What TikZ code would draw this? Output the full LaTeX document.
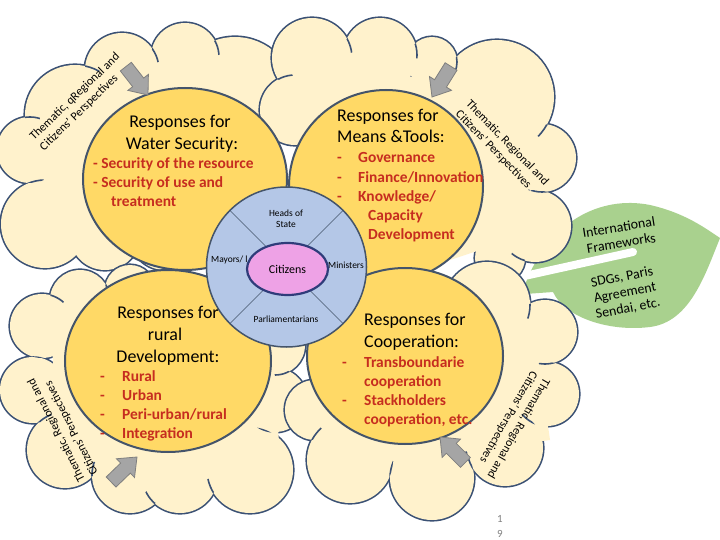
\documentclass[tikz,border=0pt]{standalone}
\usepackage{fontspec}
\setmainfont{Carlito}
\usetikzlibrary{shapes.geometric}
\definecolor{cloudfill}{HTML}{FFF2CC}
\definecolor{cloudline}{HTML}{3B5174}
\definecolor{gold}{HTML}{FFD966}
\definecolor{ringblue}{HTML}{B4C7E7}
\definecolor{pinkc}{HTML}{EEA2E6}
\definecolor{navy}{HTML}{2F3C7A}
\definecolor{redtxt}{HTML}{C62D1F}
\definecolor{leafgreen}{HTML}{A9D18E}
\definecolor{arrowfill}{HTML}{A5A5A5}
\definecolor{arrowline}{HTML}{7F7F7F}
\definecolor{slate}{HTML}{44546A}
% cloud = union of puffs; #1 puffs x/y/r, #2 filled core polygon
\newcommand\cloudpuffs[2]{%
  \foreach \pcx/\pcy/\pcr in {#1} {\draw[cloudline, line width=3.2bp] (\pcx,\pcy) circle[radius=\pcr];}
  \fill[cloudfill] #2;
  \foreach \pcx/\pcy/\pcr in {#1} {\fill[cloudfill] (\pcx,\pcy) circle[radius=\pcr];}
}
% short inner arcs where puff b runs into puff a; #2,#3 = cloud centre
\newcommand\cloudhooks[3]{%
  \foreach \pxa/\pya/\pra/\pxb/\pyb/\prb in {#1} {%
    \pgfmathsetmacro\cdd{veclen((\pxb-\pxa)/10,(\pyb-\pya)/10)}%
    \pgfmathsetmacro\caa{((\pra/10)^2-(\prb/10)^2+\cdd^2)/(2*\cdd)}%
    \pgfmathsetmacro\chh{sqrt(max((\pra/10)^2-\caa^2,0))}%
    \pgfmathsetmacro\cpx{\pxa+\caa*(\pxb-\pxa)/\cdd}%
    \pgfmathsetmacro\cpy{\pya+\caa*(\pyb-\pya)/\cdd}%
    \pgfmathsetmacro\cjxa{\cpx-\chh*(\pyb-\pya)/\cdd}%
    \pgfmathsetmacro\cjya{\cpy+\chh*(\pxb-\pxa)/\cdd}%
    \pgfmathsetmacro\cjxb{\cpx+\chh*(\pyb-\pya)/\cdd}%
    \pgfmathsetmacro\cjyb{\cpy-\chh*(\pxb-\pxa)/\cdd}%
    \pgfmathsetmacro\cda{veclen((\cjxa-#2)/10,(\cjya-#3)/10)}%
    \pgfmathsetmacro\cdb{veclen((\cjxb-#2)/10,(\cjyb-#3)/10)}%
    \pgfmathsetmacro\cjx{\cda>\cdb ? \cjxa : \cjxb}%
    \pgfmathsetmacro\cjy{\cda>\cdb ? \cjya : \cjyb}%
    \begin{scope}
      \clip (\pxa,\pya) circle[radius=\pra];
      \clip (\cjx,\cjy) circle[radius=15];
      \draw[cloudline, line width=1.6bp] (\pxb,\pyb) circle[radius=\prb];
    \end{scope}
  }%
}
\begin{document}
\begin{tikzpicture}[x=1bp,y=-1bp,
  resp/.style={ellipse, draw=slate, fill=gold, line width=2bp, inner sep=0pt},
  title/.style={font=\fontsize{18}{22}\selectfont, inner sep=0pt},
  items/.style={font=\fontsize{15.5}{19.5}\selectfont\bfseries, text=redtxt, inner sep=0pt},
  ringlabel/.style={font=\fontsize{9.5}{11}\selectfont, inner sep=0pt},
  cloudlabel/.style={font=\fontsize{12}{14.5}\selectfont, align=left, inner sep=0pt},
  leaflabel/.style={font=\fontsize{14}{16}\selectfont, align=center, inner sep=0pt},
  blockarrow/.pic={\filldraw[fill=arrowfill, draw=arrowline, line width=0.8bp]
     (-36,-7) -- (-16,-7) -- (-16,-13) -- (0,0) -- (-16,13) -- (-16,7) -- (-36,7) -- cycle;}
]
\useasboundingbox[fill=white] (0,0) rectangle (720,540);

% leaf
\fill[leafgreen] (525,285) .. controls (548,222) and (600,195) .. (650,205)
   .. controls (685,213) and (705,228) .. (720,238)
   .. controls (705,275) and (690,322) .. (650,327)
   .. controls (610,332) and (565,318) .. (553,292) -- (525,294) -- cycle;
\draw[white, line width=8bp, line cap=round] (520,277) -- (633,252);

% clouds
\cloudpuffs{30/150/33, 75/115/50, 122/70/37, 185/57/34, 235/97/60, 45/224/44, 105/235/35, 165/235/35}
  {(40,120) -- (120,60) -- (250,80) -- (260,200) -- (100,255) -- (30,220) -- cycle}
\cloudhooks{30/150/33/45/224/44, 75/115/50/30/150/33, 122/70/37/75/115/50, 185/57/34/122/70/37, 235/97/60/185/57/34}{150}{150}
\cloudpuffs{312/58/40, 380/55/37, 432/62/25, 497/97/57, 542/158/34, 535/226/36, 500/258/25, 295/110/35}
  {(300,60) -- (500,90) -- (540,230) -- (450,260) -- (300,200) -- cycle}
\cloudhooks{312/58/40/295/110/35, 380/55/37/312/58/40, 432/62/25/380/55/37, 497/97/57/432/62/25, 542/158/34/497/97/57, 535/226/36/542/158/34, 500/258/25/535/226/36}{420}{150}
\cloudpuffs{42/326/32, 33/390/33, 65/450/38, 130/475/38, 180/475/38, 250/470/43, 275/400/32, 275/345/30, 80/300/30, 130/290/25}
  {(50,320) -- (270,300) -- (280,460) -- (60,460) -- cycle}
\cloudhooks{275/400/32/275/345/30, 250/470/43/275/400/32, 180/475/38/250/470/43, 130/475/38/180/475/38, 65/450/38/130/475/38, 33/390/33/65/450/38, 42/326/32/33/390/33, 80/300/30/42/326/32, 130/290/25/80/300/30}{160}{400}
\cloudpuffs{487/305/43, 545/332/32, 547/394/32, 505/448/38, 432/478/42, 350/460/43, 315/410/30}
  {(320,300) -- (530,300) -- (550,440) -- (330,470) -- cycle}
\cloudhooks{545/332/32/487/305/43, 547/394/32/545/332/32, 505/448/38/547/394/32, 432/478/42/505/448/38, 350/460/43/432/478/42, 315/410/30/350/460/43}{440}{390}

% response circles
\node[resp, minimum width=204bp, minimum height=182bp] (water) at (185,179) {};
\node[resp, minimum width=194bp, minimum height=192bp] (means) at (386,186) {};
\node[resp, minimum width=206bp, minimum height=182bp] (rural) at (168,361) {};
\node[resp, minimum width=196bp, minimum height=176bp] (coop) at (405,356) {};

% central ring
\node[circle, draw=slate, fill=ringblue, line width=1.5bp, minimum size=160bp, inner sep=0pt] (ring) at (286.5,267) {};
\draw[slate, line width=0.6bp] (ring.center) -- (ring.45);
\draw[slate, line width=0.6bp] (ring.center) -- (ring.135);
\draw[slate, line width=0.6bp] (ring.center) -- (ring.225);
\draw[slate, line width=0.6bp] (ring.center) -- (ring.315);
\node[ringlabel, anchor=base] (heads1) at (286,217) {Heads of};
\node[ringlabel, anchor=base] (heads2) at (286,228) {State};
\node[ringlabel, anchor=base west] (mayors) at (211,263) {Mayors/ l};
\node[ringlabel, anchor=base west] (ministers) at (328,269) {Ministers};
\node[ringlabel, anchor=base] (parl) at (286,322) {Parliamentarians};
\node[ellipse, draw=navy, fill=pinkc, line width=2.2bp, minimum width=81bp, minimum height=52bp, inner sep=0pt] (cit) at (287.5,269) {};
\node[font=\fontsize{12}{14}\selectfont, anchor=base, inner sep=0pt] (citt) at (287.5,274) {Citizens};

% water security
\node[title, anchor=base] (w1) at (180,128) {Responses for};
\node[title, anchor=base] (w2) at (182,150) {Water Security:};
\node[items, anchor=base west] (w3) at (93,169) {- Security of the resource};
\node[items, anchor=base west] (w4) at (93,188) {- Security of use and};
\node[items, anchor=base west] (w5) at (111,207) {treatment};

% means & tools
\node[title, anchor=base west] (m1) at (337,122) {Responses for};
\node[title, anchor=base west] (m2) at (337,143) {Means \&Tools:};
\node[items, anchor=base west] (md1) at (337,163) {-};
\node[items, anchor=base west] (md2) at (337,183) {-};
\node[items, anchor=base west] (md3) at (337,202) {-};
\node[items, anchor=base west] (m3) at (358,163) {Governance};
\node[items, anchor=base west] (m4) at (358,183) {Finance/Innovation};
\node[items, anchor=base west] (m5) at (358,202) {Knowledge/};
\node[items, anchor=base west] (m6) at (368,221) {Capacity};
\node[items, anchor=base west] (m7) at (368,240) {Development};

% rural
\node[title, anchor=base] (r1) at (168,318) {Responses for};
\node[title, anchor=base] (r2) at (165,340) {rural};
\node[title, anchor=base] (r3) at (168,362) {Development:};
\node[items, anchor=base west] (rd1) at (100,381) {-};
\node[items, anchor=base west] (rd2) at (100,400) {-};
\node[items, anchor=base west] (rd3) at (100,419) {-};
\node[items, anchor=base west] (rd4) at (100,438) {-};
\node[items, anchor=base west] (r4) at (122,381) {Rural};
\node[items, anchor=base west] (r5) at (122,400) {Urban};
\node[items, anchor=base west] (r6) at (122,419) {Peri-urban/rural};
\node[items, anchor=base west] (r7) at (122,438) {Integration};

% cooperation
\node[title, anchor=base west] (c1) at (364,325) {Responses for};
\node[title, anchor=base west] (c2) at (364,347) {Cooperation:};
\node[items, anchor=base west] (cd1) at (342,367) {-};
\node[items, anchor=base west] (cd2) at (342,405) {-};
\node[items, anchor=base west] (c3) at (364,367) {Transboundarie};
\node[items, anchor=base west] (c4) at (364,386) {cooperation};
\node[items, anchor=base west] (c5) at (364,405) {Stackholders};
\node[items, anchor=base west] (c6) at (364,424) {cooperation, etc.};

% cloud labels
\node[cloudlabel, rotate=44] (ltl) at (80,102) {Thematic, qRegional and\\Citizens’ Perspectives};
\node[cloudlabel, rotate=-46] (ltr) at (502,148) {Thematic, Regional and\\Citizens’ Perspectives};
\node[cloudlabel, rotate=117] (lbl) at (63,427) {Thematic, Regional and\\Citizens’ Perspectives};
\node[cloudlabel, rotate=-120] (lbr) at (512,425) {Thematic, Regional and\\Citizens’ Perspectives};

% arrows
\pic[rotate=-52] at (148,95) {blockarrow};
\pic[rotate=-122] at (432,97) {blockarrow};
\pic[rotate=44] at (137,457) {blockarrow};
\pic[rotate=135] at (440,437) {blockarrow};

% leaf labels
\node[leaflabel, rotate=9] (lf1) at (620,235) {International\\Frameworks};
\node[leaflabel, rotate=11] (lf2) at (625,293) {SDGs, Paris\\Agreement\\Sendai, etc.};

% page number
\node[font=\fontsize{11}{15}\selectfont, text=gray, align=center, inner sep=0pt] (pg) at (500,526) {1\\9};
\end{tikzpicture}
\end{document}
